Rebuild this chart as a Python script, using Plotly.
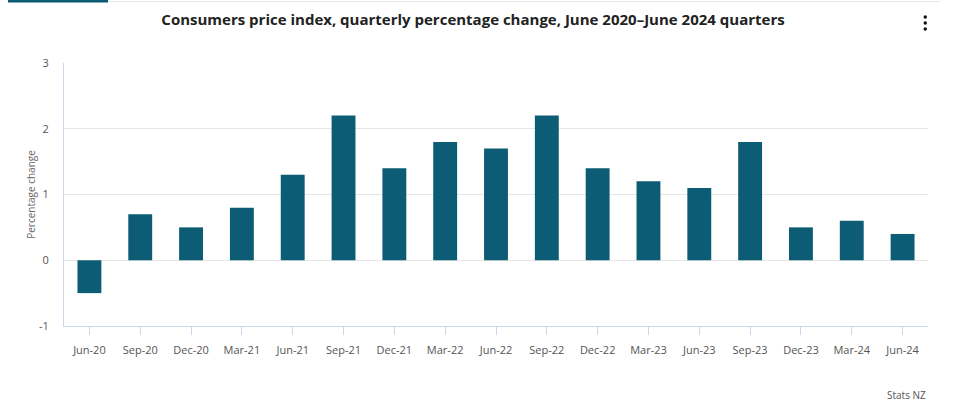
import plotly.graph_objects as go

categories = ["Jun-20", "Sep-20", "Dec-20", "Mar-21", "Jun-21", "Sep-21", "Dec-21", "Mar-22",
              "Jun-22", "Sep-22", "Dec-22", "Mar-23", "Jun-23", "Sep-23", "Dec-23", "Mar-24", "Jun-24"]
values = [-0.5, 0.7, 0.5, 0.8, 1.3, 2.2, 1.4, 1.8, 1.7, 2.2, 1.4, 1.2, 1.1, 1.8, 0.5, 0.6, 0.4]
y_ticks = [-1, 0, 1, 2, 3]
y_tick_labels = ["-1", "0", "1", "2", "3"]

W, H = 955, 411
L, R, T, B = 64, 928, 63, 326

def px(x):
    return (x - L) / (R - L)

def py(y):
    return (B - y) / (B - T)

FONT = "Open Sans"
BAR = "#0b5c74"

fig = go.Figure(go.Bar(x=categories, y=values, marker=dict(color=BAR, line=dict(width=0)),
                       hovertemplate="%{x}: %{y}<extra></extra>"))

shapes = [
    dict(type="line", xref="paper", yref="paper", x0=px(8), x1=px(108), y0=py(1), y1=py(1),
         line=dict(color=BAR, width=3)),
    dict(type="line", xref="paper", yref="paper", x0=px(108), x1=px(940), y0=py(1.5), y1=py(1.5),
         line=dict(color="#e6e6e6", width=1)),
]
for cy in (17, 23, 29):
    shapes.append(dict(type="circle", xref="paper", yref="paper",
                       x0=px(923.5), x1=px(927), y0=py(cy - 1.8), y1=py(cy + 1.8),
                       fillcolor="#111111", line=dict(width=0)))

fig.update_layout(
    width=W, height=H,
    margin=dict(l=L, r=W - R, t=T, b=H - B, pad=0),
    paper_bgcolor="white", plot_bgcolor="white",
    bargap=0.53,
    showlegend=False,
    font=dict(family=FONT, color="#666666", size=11),
    title=dict(text="<b>Consumers price index, quarterly percentage change, June 2020–June 2024 quarters</b>",
               x=473 / W, xanchor="center", y=1 - 19.5 / H, yanchor="middle",
               font=dict(family=FONT, size=15, color="#222222")),
    xaxis=dict(type="category", showgrid=False, showline=True, linecolor="#ccd6eb", linewidth=1,
               ticks="outside", ticklen=8, tickcolor="#ccd6eb", tickwidth=1,
               tickfont=dict(size=11, color="#555555"), ticklabelstandoff=6, fixedrange=True),
    yaxis=dict(range=[-1, 3], tickvals=y_ticks, ticktext=y_tick_labels,
               showgrid=True, gridcolor="#e6e6e6", gridwidth=1,
               zeroline=False, showline=True, linecolor="#ccd6eb", linewidth=1,
               tickfont=dict(size=11, color="#555555"), ticklabelstandoff=12,
               title=dict(text="Percentage change", font=dict(size=10, color="#666666"), standoff=1),
               fixedrange=True),
    shapes=shapes,
    annotations=[dict(text="Stats NZ", xref="paper", yref="paper", x=px(928), y=py(395),
                      xanchor="right", yanchor="middle", showarrow=False,
                      font=dict(size=10, color="#555555"))],
)

fig.write_html("out.html", config=dict(displayModeBar=False),
               post_script="document.body.style.margin='0';document.body.style.overflow='hidden';")
